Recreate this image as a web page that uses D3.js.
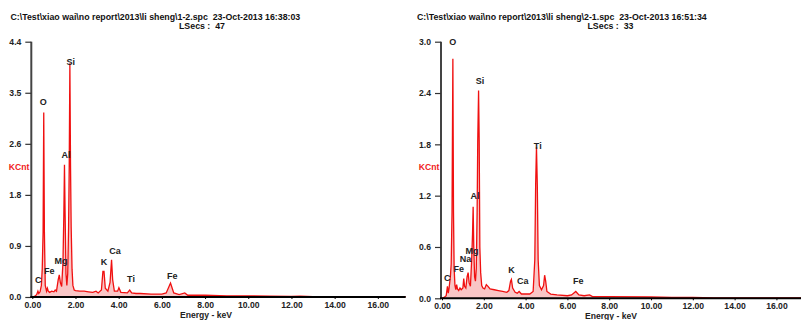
<!DOCTYPE html>
<html><head><meta charset="utf-8">
<script src="https://cdn.jsdelivr.net/npm/d3@7"></script>
<style>body{margin:0;background:#fff}svg{display:block}text{font-family:"Liberation Sans",Arial,sans-serif}</style>
</head><body><svg id="c" width="801" height="320"></svg>
<script>
// ---------- data ----------
const leftTitle = "C:\\Test\\xiao wai\\no report\\2013\\li sheng\\1-2.spc  23-Oct-2013 16:38:03";
const leftLSecs = "LSecs :  47";
const rightTitle = "C:\\Test\\xiao wai\\no report\\2013\\li sheng\\2-1.spc  23-Oct-2013 16:51:34";
const rightLSecs = "LSecs :  33";

const xTickValues = [0, 2, 4, 6, 8, 10, 12, 14, 16];
const xTickLabels = ["0.00", "2.00", "4.00", "6.00", "8.00", "10.00", "12.00", "14.00", "16.00"];
const leftYTickValues = [0, 0.88, 1.76, 2.64, 3.52, 4.4];
const leftYTickLabels = ["0.0", "0.9", "1.8", "2.6", "3.5", "4.4"];
const rightYTickValues = [0, 0.6, 1.2, 1.8, 2.4, 3.0];
const rightYTickLabels = ["0.0", "0.6", "1.2", "1.8", "2.4", "3.0"];

// spectrum 1 (1-2.spc): energy keV, KCnt
const leftEnergy = [0.00,0.10,0.20,0.26,0.30,0.36,0.42,0.46,0.50,0.53,0.56,0.60,0.66,0.70,0.74,0.80,0.90,1.00,1.06,1.12,1.20,1.25,1.30,1.36,1.42,1.46,1.49,1.52,1.56,1.60,1.64,1.68,1.71,1.74,1.77,1.80,1.84,1.88,1.94,2.00,2.20,2.40,2.60,2.80,2.95,3.05,3.20,3.27,3.32,3.38,3.50,3.60,3.67,3.72,3.80,3.95,4.01,4.10,4.40,4.51,4.60,4.80,5.00,5.50,6.00,6.20,6.40,6.55,6.80,7.06,7.20,8.00,9.00,10.00,11.00,12.00,12.40,13.00,17.30];
const leftCounts = [0.00,0.01,0.04,0.10,0.06,0.09,0.20,0.48,1.12,3.18,1.12,0.20,0.10,0.15,0.10,0.08,0.10,0.09,0.12,0.10,0.30,0.38,0.25,0.18,0.60,1.41,2.28,1.41,0.40,0.20,0.40,1.20,2.26,4.03,2.26,1.20,0.48,0.20,0.12,0.11,0.10,0.10,0.09,0.08,0.10,0.07,0.12,0.44,0.44,0.15,0.10,0.25,0.64,0.30,0.10,0.10,0.16,0.08,0.07,0.12,0.07,0.06,0.06,0.05,0.05,0.07,0.24,0.07,0.04,0.07,0.03,0.03,0.02,0.02,0.015,0.01,0.015,0.005,0.005];

// spectrum 2 (2-1.spc)
const rightEnergy = [0.00,0.10,0.20,0.26,0.30,0.34,0.40,0.44,0.48,0.52,0.55,0.58,0.62,0.66,0.70,0.74,0.80,0.86,0.92,1.00,1.04,1.08,1.14,1.20,1.25,1.30,1.36,1.42,1.46,1.49,1.52,1.56,1.60,1.64,1.68,1.71,1.75,1.78,1.81,1.85,1.90,1.96,2.04,2.12,2.20,2.30,2.50,2.70,2.90,3.10,3.20,3.28,3.32,3.38,3.50,3.60,3.69,3.80,4.00,4.20,4.36,4.44,4.48,4.52,4.56,4.60,4.66,4.76,4.86,4.91,4.96,5.02,5.20,5.50,6.00,6.20,6.40,6.55,6.80,7.06,7.20,8.00,10.00,11.00,12.00,13.00,18.00];
const rightCounts = [0.00,0.01,0.03,0.14,0.06,0.12,0.25,0.40,1.01,2.80,1.01,0.35,0.15,0.10,0.16,0.11,0.09,0.12,0.10,0.12,0.23,0.14,0.12,0.25,0.30,0.18,0.14,0.45,0.75,1.07,0.60,0.25,0.20,0.35,1.00,1.83,2.43,1.83,0.60,0.30,0.15,0.12,0.11,0.16,0.14,0.11,0.10,0.09,0.08,0.07,0.09,0.20,0.22,0.12,0.07,0.06,0.08,0.05,0.05,0.05,0.08,0.45,1.32,1.77,1.32,0.45,0.15,0.10,0.15,0.27,0.20,0.08,0.05,0.04,0.03,0.04,0.08,0.04,0.03,0.04,0.02,0.02,0.015,0.01,0.01,0.005,0.005];

// peak labels: element, energy (keV), KCnt level of label
const leftLabelNames = ["Si","O","Al","Mg","Fe","C","K","Ca","Ti","Fe"];
const leftLabelE = [1.78,0.51,1.56,1.33,0.79,0.28,3.32,3.83,4.57,6.48];
const leftLabelV = [4.06,3.37,2.46,0.62,0.45,0.29,0.61,0.80,0.32,0.36];
const rightLabelNames = ["O","Si","Ti","Al","Mg","Na","Fe","C","K","Ca","Fe"];
const rightLabelE = [0.51,1.82,4.58,1.58,1.44,1.13,0.80,0.25,3.33,3.86,6.52];
const rightLabelV = [3.00,2.54,1.78,1.20,0.56,0.46,0.35,0.24,0.33,0.21,0.21];

// ---------- drawing ----------
const svg = d3.select("#c");

function panel(cfg) {
  const g = svg.append("g");
  const x = d3.scaleLinear().domain([0, cfg.xMax]).range([cfg.x0, cfg.x1]);
  const y = d3.scaleLinear().domain([0, cfg.yMax]).range([cfg.y0, cfg.yTop]);
  const pts = cfg.energy.map((e, i) => [e, cfg.counts[i]]);

  // titles
  g.append("text").attr("x", cfg.titleX).attr("y", 20).attr("font-size", 8.8).attr("font-weight", "bold")
    .style("white-space", "pre").attr("fill", "#111").text(cfg.title);
  g.append("text").attr("x", cfg.lsecsX).attr("y", 28.5).attr("font-size", 8.8).attr("font-weight", "bold")
    .style("white-space", "pre").attr("fill", "#111").text(cfg.lsecs);

  // spectrum
  const clip = "clip" + cfg.id;
  svg.append("clipPath").attr("id", clip).append("rect")
    .attr("x", cfg.x0).attr("y", 0).attr("width", cfg.x1 - cfg.x0).attr("height", cfg.y0 + 1);
  const area = d3.area().x(d => x(d[0])).y0(y(0)).y1(d => y(d[1]));
  const line = d3.line().x(d => x(d[0])).y(d => y(d[1]));
  g.append("path").datum(pts).attr("clip-path", `url(#${clip})`).attr("d", area).attr("fill", "#f9c6c6");
  g.append("path").datum(pts).attr("clip-path", `url(#${clip})`).attr("d", line)
    .attr("fill", "none").attr("stroke", "#f01010").attr("stroke-width", 1.3);

  // y axis
  const ya = g.append("g").attr("transform", `translate(${cfg.x0 - 1},0)`)
    .call(d3.axisLeft(y).tickValues(cfg.yTicks).tickFormat((d, i) => cfg.yLabels[i]).tickSize(6).tickPadding(4));
  ya.select(".domain").attr("stroke", "#444").attr("stroke-width", 2).attr("d", `M0,${cfg.yTop}V${cfg.y0}`);
  ya.selectAll(".tick line").attr("stroke", "#333").attr("stroke-width", 1.2);
  ya.selectAll("text").attr("font-size", 8.6).attr("font-weight", "bold").attr("fill", "#222")
    .attr("font-family", '"Liberation Sans",Arial,sans-serif');

  // x axis
  const xa = g.append("g").attr("transform", `translate(0,${cfg.y0})`)
    .call(d3.axisBottom(x).tickValues(xTickValues).tickFormat((d, i) => xTickLabels[i]).tickSize(2).tickPadding(3));
  xa.select(".domain").attr("stroke", "#000").attr("stroke-width", 2).attr("d", `M${cfg.x0 - 2},0H${cfg.x1}`);
  xa.selectAll(".tick line").attr("stroke", "#000");
  xa.selectAll("text").attr("font-size", 8.6).attr("font-weight", "bold").attr("fill", "#222")
    .attr("font-family", '"Liberation Sans",Arial,sans-serif');

  g.append("text").attr("x", cfg.xLabelX).attr("y", cfg.xLabelY).attr("text-anchor", "middle")
    .attr("font-size", 8.6).attr("font-weight", "bold").attr("fill", "#222").text("Energy - keV");
  g.append("text").attr("x", cfg.kcntX).attr("y", 170).attr("text-anchor", "middle")
    .attr("font-size", 8.6).attr("font-weight", "bold").attr("fill", "#f02020").text("KCnt");

  // peak labels
  cfg.names.forEach((n, i) => {
    g.append("text").attr("x", x(cfg.labE[i])).attr("y", y(cfg.labV[i]) + 3.3)
      .attr("text-anchor", "middle").attr("font-size", 9).attr("font-weight", "bold")
      .attr("fill", "#222").text(n);
  });
}

panel({id: "L", x0: 32.3, x1: 405.7, xMax: 17.29, y0: 297, yTop: 41.7, yMax: 4.4,
  energy: leftEnergy, counts: leftCounts, yTicks: leftYTickValues, yLabels: leftYTickLabels,
  title: leftTitle, titleX: 10.5, lsecs: leftLSecs, lsecsX: 179,
  xLabelX: 206, xLabelY: 318, kcntX: 19,
  names: leftLabelNames, labE: leftLabelE, labV: leftLabelV});

panel({id: "R", x0: 442, x1: 803.6, xMax: 17.3, y0: 298.3, yTop: 41.7, yMax: 3.0,
  energy: rightEnergy, counts: rightCounts, yTicks: rightYTickValues, yLabels: rightYTickLabels,
  title: rightTitle, titleX: 417, lsecs: rightLSecs, lsecsX: 587.5,
  xLabelX: 611, xLabelY: 318.5, kcntX: 429,
  names: rightLabelNames, labE: rightLabelE, labV: rightLabelV});
</script></body></html>
